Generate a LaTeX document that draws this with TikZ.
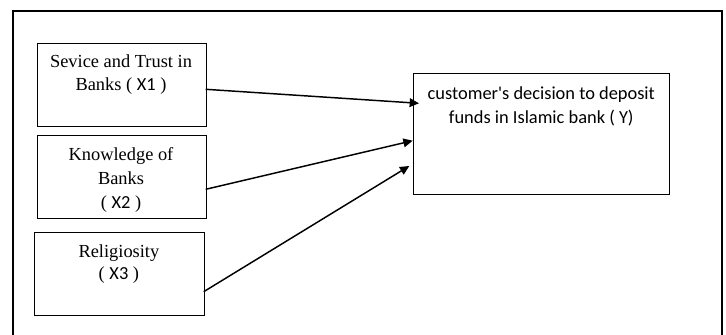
\documentclass[tikz,border=0pt]{standalone}
\usepackage{fontspec}
\setmainfont{Liberation Serif}
\newfontfamily\calfont{Carlito}
\usetikzlibrary{arrows.meta}
\begin{document}
\begin{tikzpicture}[x=0.75pt,y=-0.75pt,
  frame/.style={line width=1.5pt},
  boxnode/.style={draw,line width=0.8pt,inner sep=0pt,anchor=north west},
  lbl/.style={align=center,inner sep=0pt,font=\fontsize{13.8}{17.5}\selectfont},
  arr/.style={line width=1.1pt,-{Triangle[length=7pt,width=6.5pt]}}]
\useasboundingbox (0,0) rectangle (726,335);
\draw[frame] (13,340) -- (13,11) -- (722,11) -- (722,340);
\node[boxnode,minimum width=169pt*0.75,minimum height=83pt*0.75] (b1) at (36.7,42.7) {};
\node[boxnode,minimum width=169pt*0.75,minimum height=83.3pt*0.75] (b2) at (36.7,134.7) {};
\node[boxnode,minimum width=169.7pt*0.75,minimum height=83pt*0.75] (b3) at (34,231.7) {};
\node[boxnode,minimum width=256pt*0.75,minimum height=120.7pt*0.75] (by) at (413.3,73.3) {};
\node[lbl] (t1) at (121,74.5) {Sevice and Trust in\\Banks ( {\calfont X1} )};
\node[lbl,font=\fontsize{13.8}{18}\selectfont] (t2) at (121,179.5) {Knowledge of\\Banks\\( {\calfont X2} )};
\node[lbl,font=\fontsize{13.8}{16.5}\selectfont] (t3) at (118.9,264) {Religiosity\\( {\calfont X3} )};
\node[lbl,font=\calfont\fontsize{13.8}{18}\selectfont] (ty) at (541.3,106) {customer's decision to deposit\\funds in Islamic bank ( Y)};
\coordinate (s1) at (205.7,89.3);
\coordinate (e1) at (419,103.3);
\coordinate (s2) at (205.7,189.3);
\coordinate (e2) at (412.7,140.7);
\coordinate (s3) at (203.7,291.7);
\coordinate (e3) at (409.3,166);
\draw[arr] (s1) -- (e1);
\draw[arr] (s2) -- (e2);
\draw[arr] (s3) -- (e3);
\end{tikzpicture}
\end{document}
